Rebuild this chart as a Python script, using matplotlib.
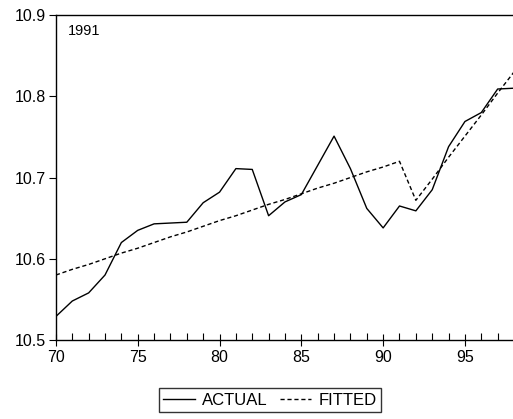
import matplotlib.pyplot as plt
from matplotlib.ticker import MultipleLocator

# yearly series (log scale) and the broken-trend fit with a break in 1991
years = list(range(70, 99))
actual = [10.529, 10.548, 10.558, 10.580, 10.620, 10.635, 10.643, 10.644, 10.645,
          10.669, 10.682, 10.711, 10.710, 10.653, 10.670, 10.679, 10.715, 10.751,
          10.711, 10.662, 10.638, 10.665, 10.659, 10.685, 10.738, 10.769, 10.780,
          10.809, 10.810]
fitted = [10.580, 10.587, 10.593, 10.600, 10.607, 10.613, 10.620, 10.627, 10.633,
          10.640, 10.647, 10.653, 10.660, 10.667, 10.673, 10.680, 10.687, 10.693,
          10.700, 10.707, 10.713, 10.720, 10.672, 10.698, 10.725, 10.751, 10.777,
          10.804, 10.830]
y_ticks = [10.5, 10.6, 10.7, 10.8, 10.9]
x_ticks = [70, 75, 80, 85, 90, 95]

plt.rcParams['font.family'] = ['Liberation Sans', 'DejaVu Sans']

fig = plt.figure(figsize=(5.13, 4.19), dpi=100)
ax = fig.add_axes([0.109, 0.1885, 0.893, 0.7755])

ax.plot(years, actual, color='black', lw=1.0, label='ACTUAL')
ax.plot(years, fitted, color='black', lw=1.0, dashes=(3, 2), label='FITTED')

ax.set_xlim(70, 98)
ax.set_ylim(10.5, 10.9)
ax.set_xticks(x_ticks)
ax.set_yticks(y_ticks)
ax.set_yticklabels([f'{v:.1f}' for v in y_ticks])
ax.xaxis.set_minor_locator(MultipleLocator(1))
ax.tick_params(axis='x', which='major', direction='inout', length=8, width=0.8,
               labelsize=11.5, pad=3)
ax.tick_params(axis='x', which='minor', direction='in', length=5, width=0.8)
ax.tick_params(axis='y', direction='out', length=5, width=0.8, labelsize=11.5, pad=2)
for side in ax.spines.values():
    side.set_linewidth(1.0)
ax.spines['right'].set_visible(False)

ax.text(0.027, 0.95, '1991', transform=ax.transAxes, fontsize=10.5,
        ha='left', va='center')

leg = fig.legend(loc='center', bbox_to_anchor=(270 / 513, 1 - 400 / 419), ncol=2,
                 fontsize=12, frameon=True, fancybox=False, handlelength=1.9,
                 handletextpad=0.45, columnspacing=0.7, borderpad=0.25,
                 borderaxespad=0)
leg.get_frame().set_edgecolor('black')
leg.get_frame().set_linewidth(1.0)

fig.savefig('out.png', dpi=100)
